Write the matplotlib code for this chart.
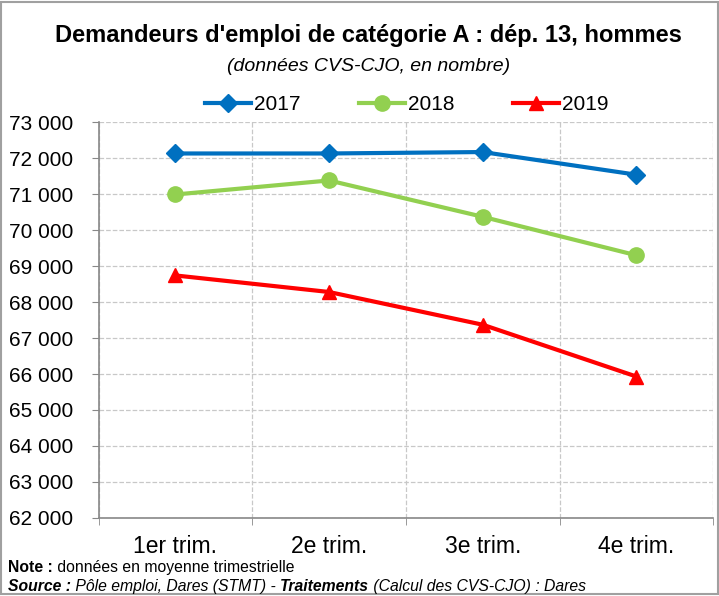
import matplotlib
matplotlib.use('Agg')
import matplotlib.pyplot as plt
from matplotlib.ticker import FuncFormatter, FixedLocator
from matplotlib.patches import Rectangle
from matplotlib import font_manager

# --- données ---
trimestres = ['1er trim.', '2e trim.', '3e trim.', '4e trim.']
serie_2017 = [72130, 72130, 72170, 71540]
serie_2018 = [70990, 71380, 70370, 69300]
serie_2019 = [68740, 68280, 67370, 65930]
annees = ['2017', '2018', '2019']

installed = {f.name for f in font_manager.fontManager.ttflist}
FONT = 'Liberation Sans Narrow' if 'Liberation Sans Narrow' in installed else 'Liberation Sans'
plt.rcParams['font.family'] = [FONT, 'DejaVu Sans']

fig = plt.figure(figsize=(7.19, 5.96), dpi=100)
ax = fig.add_axes([0.137, 0.131, 0.855, 0.664])

x = range(len(trimestres))
ax.plot(x, serie_2017, color='#0070C0', lw=3, marker='D', ms=9.5, label=annees[0])
ax.plot(x, serie_2018, color='#92D050', lw=3, marker='o', ms=11, label=annees[1])
ax.plot(x, serie_2019, color='#FF0000', lw=3, marker='^', ms=10, label=annees[2])

ax.set_xlim(-0.5, 3.5)
ax.set_ylim(62000, 73000)
ax.yaxis.set_major_locator(FixedLocator(range(62000, 73001, 1000)))
ax.yaxis.set_major_formatter(FuncFormatter(lambda v, p: f"{int(v):,}".replace(",", " ")))
ax.set_xticks(list(x))
ax.set_xticklabels(trimestres)
ax.set_xticks([-0.5, 0.5, 1.5, 2.5, 3.5], minor=True)
ax.tick_params(axis='x', which='major', length=0, pad=12, labelsize=16.5)
ax.tick_params(axis='x', which='minor', length=5, color='#888888')
ax.tick_params(axis='y', length=5, color='#888888', labelsize=15, pad=13)

ax.grid(axis='y', which='major', linestyle='--', color='#C8C8C8', lw=0.9)
ax.grid(axis='x', which='minor', linestyle='--', color='#C8C8C8', lw=0.9)
for s in ['top', 'right']:
    ax.spines[s].set_visible(False)
for s in ['left', 'bottom']:
    ax.spines[s].set_color('#888888')
    ax.spines[s].set_linewidth(1.2)
ax.set_axisbelow(True)

fig.legend(loc='center', bbox_to_anchor=(0.566, 0.824), ncol=3, frameon=False,
           fontsize=15, handlelength=2.2, handletextpad=0.15, columnspacing=2.8)

fig.text(0.513, 0.941, "Demandeurs d'emploi de catégorie A : dép. 13, hommes",
         ha='center', va='center', fontsize=17, fontweight='bold')
fig.text(0.513, 0.889, "(données CVS-CJO, en nombre)", ha='center', va='center',
         fontsize=14, style='italic')

# --- note et source (texte en morceaux) ---
fig.canvas.draw()
r = fig.canvas.get_renderer()

def ligne(morceaux, y):
    xpos = 8
    for txt, kw in morceaux:
        t = fig.text(xpos / 719, y, txt, va='center', ha='left', fontsize=11.3, **kw)
        xpos = t.get_window_extent(r).x1

ligne([("Note :", dict(fontweight='bold')), (" données en moyenne trimestrielle", {})], 0.048)
ligne([("Source :", dict(fontweight='bold', style='italic')),
       (" Pôle emploi, Dares (STMT) - ", dict(style='italic')),
       ("Traitements", dict(fontweight='bold', style='italic')),
       (" (Calcul des CVS-CJO) : Dares", dict(style='italic'))], 0.016)

fig.patches.append(Rectangle((0.002, 0.004), 0.996, 0.992, transform=fig.transFigure,
                             fill=False, edgecolor='#A0A0A0', lw=1.5))

fig.savefig('out.png', dpi=100)
